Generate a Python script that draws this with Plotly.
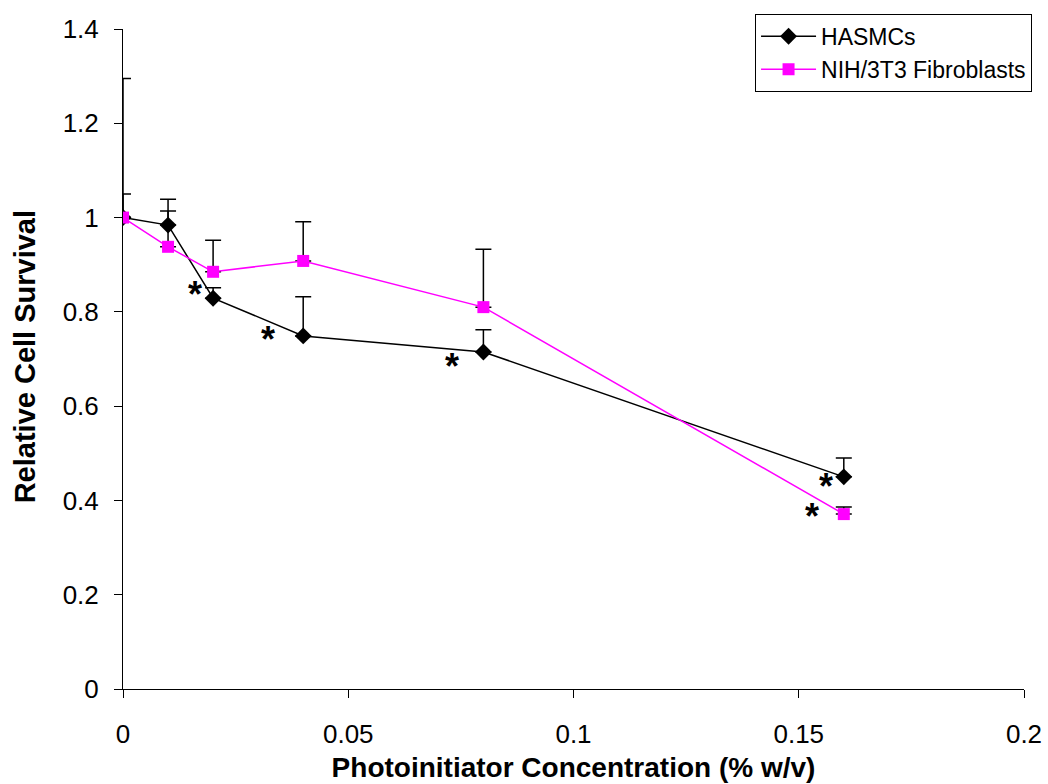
import plotly.graph_objects as go

conc = [0, 0.01, 0.02, 0.04, 0.08, 0.16]
hasmc = [1.0, 0.984, 0.829, 0.749, 0.715, 0.450]
hasmc_err = [0.05, 0.03, 0.022, 0.083, 0.047, 0.040]
nih = [1.0, 0.938, 0.885, 0.908, 0.810, 0.371]
nih_err = [0.295, 0.101, 0.067, 0.083, 0.123, 0.015]

star_x = [0.0160, 0.0322, 0.0731, 0.1561, 0.1530]
star_y = [0.836, 0.742, 0.685, 0.430, 0.366]

fig = go.Figure()
fig.add_trace(go.Scatter(
    x=conc, y=hasmc, mode="lines+markers", name="HASMCs",
    line=dict(color="black", width=1.5),
    marker=dict(symbol="diamond", size=13, color="black"),
    error_y=dict(type="data", array=hasmc_err, arrayminus=[0]*len(conc),
                 color="black", thickness=1.5, width=8),
))
fig.add_trace(go.Scatter(
    x=conc, y=nih, mode="lines+markers", name="NIH/3T3 Fibroblasts",
    line=dict(color="#FF00FF", width=1.5),
    marker=dict(symbol="square", size=12, color="#FF00FF"),
    error_y=dict(type="data", array=nih_err, arrayminus=[0]*len(conc),
                 color="black", thickness=1.5, width=8),
))

for sx, sy in zip(star_x, star_y):
    fig.add_annotation(x=sx, y=sy, text="<b>*</b>", showarrow=False,
                       font=dict(size=36, color="black", family="Liberation Sans, Arial"),
                       xanchor="center", yanchor="middle")

fig.add_annotation(x=-0.1088, y=0.504, xref="paper", yref="paper",
                   text="<b>Relative Cell Survival</b>", textangle=-90,
                   showarrow=False, xanchor="center", yanchor="middle",
                   font=dict(size=29, color="black", family="Liberation Sans, Arial"))

fig.update_layout(
    width=1048, height=784,
    margin=dict(l=123, r=24, t=29, b=95, autoexpand=False),
    paper_bgcolor="white", plot_bgcolor="white",
    font=dict(family="Liberation Sans, Arial", size=26, color="black"),
    showlegend=True,
    legend=dict(x=0.7015, y=1.023, xanchor="left", yanchor="top",
                bordercolor="black", borderwidth=1, bgcolor="white",
                font=dict(size=23), itemwidth=55,
                tracegroupgap=0),
)
fig.update_xaxes(
    range=[0, 0.2], tickvals=[0, 0.05, 0.1, 0.15, 0.2],
    ticktext=["0", "0.05", "0.1", "0.15", "0.2"],
    showline=True, linecolor="black", linewidth=1,
    ticks="outside", ticklen=8, tickcolor="black", tickwidth=1,
    showgrid=False, zeroline=False, automargin=False,
    tickfont=dict(size=26), ticklabelstandoff=14,
    title=dict(text="<b>Photoinitiator Concentration (% w/v)</b>", font=dict(size=28), standoff=9),
)
fig.update_yaxes(
    range=[0, 1.4], tickvals=[0, 0.2, 0.4, 0.6, 0.8, 1.0, 1.2, 1.4],
    ticktext=["0", "0.2", "0.4", "0.6", "0.8", "1", "1.2", "1.4"],
    showline=True, linecolor="black", linewidth=1,
    ticks="outside", ticklen=8, tickcolor="black", tickwidth=1,
    showgrid=False, zeroline=False, automargin=False,
    tickfont=dict(size=26), ticklabelstandoff=10,
)

fig.write_html("out.html")
